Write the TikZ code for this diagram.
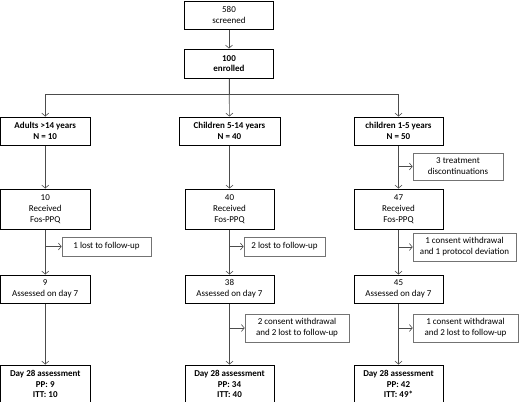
\documentclass[tikz,border=0pt]{standalone}
\usepackage{fontspec}
\setmainfont{Carlito}
\usetikzlibrary{arrows.meta,positioning}

\begin{document}
\begin{tikzpicture}[x=1pt,y=1pt,>={Straight Barb[length=3pt,width=7pt]},
        box/.style={draw,line width=1pt,minimum width=89pt,minimum height=28pt,
          align=center,inner sep=1pt,font=\fontsize{9}{11}\selectfont},
        boldbox/.style={box,font=\fontsize{9}{10.5}\selectfont\bfseries},
        side/.style={draw=black!55,line width=0.6pt,minimum height=19pt,
          align=center,inner sep=2pt,font=\fontsize{9}{11}\selectfont},
        link/.style={->,draw=black!70,line width=0.6pt}]
      \useasboundingbox (0,0) rectangle (520,-402);
      \node[box] (scr) at (229,-15) {580\\screened};
      \node[boldbox,minimum height=29pt] (enr) [below=19pt of scr] {100\\enrolled};
      \node[boldbox,minimum width=89.5pt] (g1) at (45.25,-131) {Adults >14 years\\N = 10};
      \node[boldbox,minimum width=101pt] (g2) at (229.5,-131) {Children 5-14 years\\N = 40};
      \node[boldbox] (g3) at (398.5,-131) {children 1-5 years\\N = 50};
      \node[box,minimum width=89.5pt,minimum height=40pt] (r1) [below=43pt of g1] {10\\Received\\Fos-PPQ};
      \node[box,minimum height=40pt] (r2) [below=43pt of g2] {40\\Received\\Fos-PPQ};
      \node[box,minimum height=40pt] (r3) [below=43pt of g3] {47\\Received\\Fos-PPQ};
      \node[box,minimum width=89.5pt] (a1) [below=45pt of r1] {9\\Assessed on day 7};
      \node[box] (a2) [below=45pt of r2] {38\\Assessed on day 7};
      \node[box] (a3) [below=45pt of r3] {45\\Assessed on day 7};
      \node[boldbox,minimum width=89.5pt,minimum height=38pt] (d1) [below=61pt of a1] {Day 28 assessment\\PP: 9\\ITT: 10};
      \node[boldbox,minimum height=38pt] (d2) [below=61pt of a2] {Day 28 assessment\\PP: 34\\ITT: 40};
      \node[boldbox,minimum height=38pt] (d3) [below=61pt of a3] {Day 28 assessment\\PP: 42\\ITT: 49*};
      % exclusions
      \node[side,minimum width=90pt,minimum height=27pt] (dis3) at (458,-166.5) {3 treatment\\discontinuations};
      \node[side,minimum width=89pt] (lost1) at (106.5,-246.5) {1 lost to follow-up};
      \node[side,minimum width=81pt] (lost2) at (284.5,-246.5) {2 lost to follow-up};
      \node[side,minimum width=103pt,minimum height=28pt] (wd3) at (464.5,-247) {1 consent withdrawal\\and 1 protocol deviation};
      \node[side,minimum width=104pt,minimum height=28pt] (wd2) at (297,-328) {2 consent withdrawal\\and 2 lost to follow-up};
      \node[side,minimum width=105pt,minimum height=28pt] (wd3b) at (465.5,-328) {1 consent withdrawal\\and 2 lost to follow-up};
      \path[link] (scr) edge (enr)
      (enr) edge (g2)
      (g1) edge (r1) (r1) edge (a1) (a1) edge (d1)
      (g2) edge (r2) (r2) edge (a2) (a2) edge (d2)
      (g3) edge (r3) (r3) edge (a3) (a3) edge (d3);
      \draw[link] (enr.south) -- ++(0,-16) -| (g1.north);
      \draw[link] (enr.south) -- ++(0,-16) -| (g3.north);
      \draw[link] (g3.south |- dis3.west) -- (dis3.west);
      \draw[link] (r1.south |- lost1.west) -- (lost1.west);
      \draw[link] (r2.south |- lost2.west) -- (lost2.west);
      \draw[link] (r3.south |- wd3.west) -- (wd3.west);
      \draw[link] (a2.south |- wd2.west) -- (wd2.west);
      \draw[link] (a3.south |- wd3b.west) -- (wd3b.west);
    \end{tikzpicture}
\end{document}
